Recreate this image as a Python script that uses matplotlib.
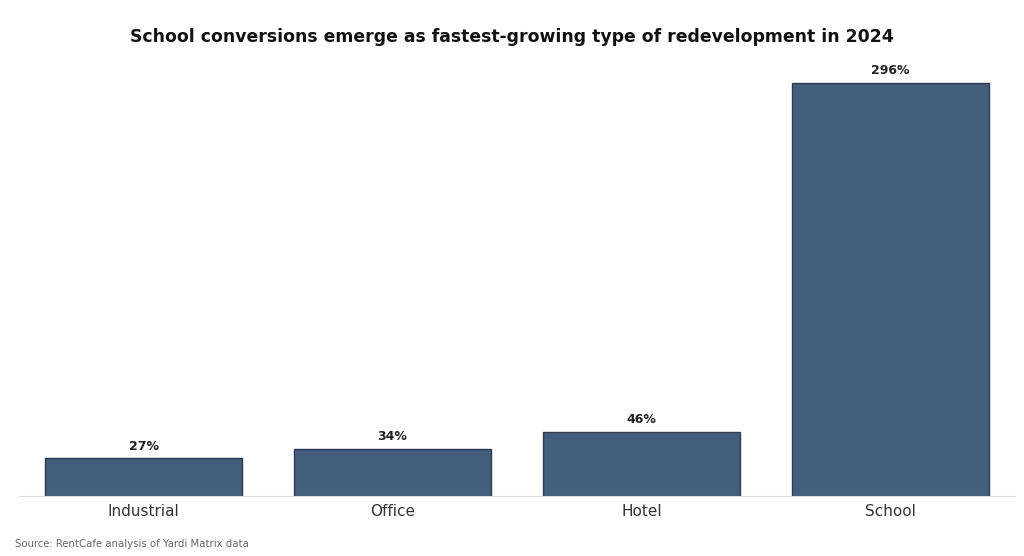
import matplotlib
matplotlib.use("Agg")
import matplotlib.pyplot as plt

categories = ["Industrial", "Office", "Hotel", "School"]
values = [27, 34, 46, 296]
labels = ["27%", "34%", "46%", "296%"]

fig = plt.figure(figsize=(10.24, 5.56), dpi=100)
ax = fig.add_axes([19/1024, 60/556, 996/1024, 426/556])
x = range(len(categories))
bars = ax.bar(x, values, width=0.79, color="#435e7c", edgecolor="#2a3d55", linewidth=1)
for xi, v, l in zip(x, values, labels):
    ax.annotate(l, (xi, v), xytext=(0, 4), textcoords="offset points",
                ha="center", va="bottom", fontsize=9, fontweight="bold", color="#222222")
ax.set_xlim(-0.5, 3.5)
ax.set_ylim(0, 305)
ax.set_xticks(list(x))
ax.set_xticklabels(categories, fontsize=11, color="#333333")
ax.tick_params(axis="x", length=0, pad=6)
ax.set_yticks([])
for s in ["top", "right", "left"]:
    ax.spines[s].set_visible(False)
ax.spines["bottom"].set_color("#dddddd")
fig.text(0.5, 1 - 37/556, "School conversions emerge as fastest-growing type of redevelopment in 2024",
         ha="center", va="center", fontsize=12.4, fontweight="bold", color="#111111")
fig.text(15/1024, 1 - 544/556, "Source: RentCafe analysis of Yardi Matrix data",
         ha="left", va="center", fontsize=7.3, color="#666666")
fig.savefig("out.png", dpi=100)
